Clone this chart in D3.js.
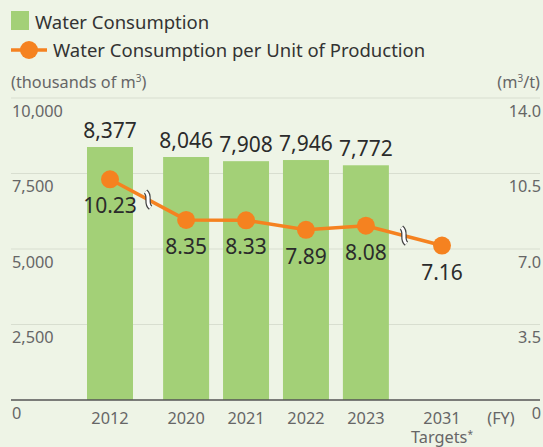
<!DOCTYPE html>
<html>
<head>
<meta charset="utf-8">
<script src="https://cdn.jsdelivr.net/npm/d3@7"></script>
<style>
  html, body { margin: 0; padding: 0; background: #eef4e6; }
  svg { display: block; font-family: "Noto Sans", "Open Sans", sans-serif; }
</style>
</head>
<body>
<div id="app"></div>
<script>
const years = ['2012', '2020', '2021', '2022', '2023', '2031'];
const consumption = [8377, 8046, 7908, 7946, 7772, null];
const perUnit = [10.23, 8.35, 8.33, 7.89, 8.08, 7.16];
const leftTicks = [0, 2500, 5000, 7500, 10000];
const rightTicks = [0, 3.5, 7.0, 10.5, 14.0];

const width = 543;
const height = 447;
const bg = '#eef4e6';
const green = '#a3d077';
const orange = '#f58220';
const smallFont = 16.3;

const margin = { top: 98, bottom: 47, left: 11, right: 3 };
const plotBottom = height - margin.bottom;

// extra room where the year sequence jumps (axis break)
const breakGap = 0.27;
let breaks = 0;
const slots = years.map((y, i) => {
  if (i > 0 && +y - +years[i - 1] > 1) breaks++;
  return i + breaks * breakGap;
});

const x = d3.scaleLinear()
  .domain([0, d3.max(slots)])
  .range([110, 442]);
const yLeft = d3.scaleLinear().domain([0, 10000]).range([plotBottom, margin.top]);
const yRight = d3.scaleLinear().domain([0, 14]).range([plotBottom, margin.top]);
const barWidth = 46;

const svg = d3.select('#app').append('svg')
  .attr('width', width)
  .attr('height', height);

svg.append('rect').attr('width', width).attr('height', height).attr('fill', bg);

// legend
const legend = svg.append('g');
legend.append('rect')
  .attr('x', 11).attr('y', 11).attr('width', 18).attr('height', 19)
  .attr('fill', green);
legend.append('text')
  .attr('x', 35).attr('y', 29)
  .attr('font-size', 18.5).attr('fill', '#333')
  .text('Water Consumption');
legend.append('line')
  .attr('x1', 11).attr('x2', 47).attr('y1', 50).attr('y2', 50)
  .attr('stroke', orange).attr('stroke-width', 3.5);
legend.append('circle')
  .attr('cx', 29).attr('cy', 50).attr('r', 9)
  .attr('fill', orange);
legend.append('text')
  .attr('x', 53).attr('y', 57)
  .attr('font-size', 18.5).attr('fill', '#333')
  .text('Water Consumption per Unit of Production');

// unit labels
const unitLeft = svg.append('text')
  .attr('x', 11).attr('y', 88)
  .attr('font-size', smallFont).attr('fill', '#666');
unitLeft.append('tspan').text('(thousands of m');
unitLeft.append('tspan').attr('font-size', 10).attr('dy', -6).text('3');
unitLeft.append('tspan').attr('dy', 6).text(')');

const unitRight = svg.append('text')
  .attr('x', 540).attr('y', 88)
  .attr('text-anchor', 'end')
  .attr('font-size', smallFont).attr('fill', '#666');
unitRight.append('tspan').text('(m');
unitRight.append('tspan').attr('font-size', 10).attr('dy', -6).text('3');
unitRight.append('tspan').attr('dy', 6).text('/t)');

// gridlines
svg.append('g')
  .selectAll('line')
  .data(leftTicks.filter(d => d > 0))
  .join('line')
  .attr('x1', margin.left).attr('x2', width - margin.right)
  .attr('y1', d => yLeft(d)).attr('y2', d => yLeft(d))
  .attr('stroke', '#d8ded0').attr('stroke-width', 1);

// left axis labels
const fmt = d3.format(',');
svg.append('g')
  .selectAll('text')
  .data(leftTicks)
  .join('text')
  .attr('x', 12)
  .attr('y', d => yLeft(d) + 18.5)
  .attr('font-size', smallFont).attr('fill', '#666')
  .text(d => fmt(d));

// right axis labels
svg.append('g')
  .selectAll('text')
  .data(rightTicks)
  .join('text')
  .attr('x', 541)
  .attr('y', d => yRight(d) + 18.5)
  .attr('text-anchor', 'end')
  .attr('font-size', smallFont).attr('fill', '#666')
  .text(d => d === 0 ? '0' : d3.format('.1f')(d));

// bars
const barData = years.map((y, i) => ({ year: y, value: consumption[i], slot: slots[i] }))
  .filter(d => d.value != null);

svg.append('g')
  .selectAll('rect')
  .data(barData)
  .join('rect')
  .attr('x', d => x(d.slot) - barWidth / 2)
  .attr('width', barWidth)
  .attr('y', d => yLeft(d.value))
  .attr('height', d => plotBottom - yLeft(d.value))
  .attr('fill', green);

svg.append('g')
  .selectAll('text')
  .data(barData)
  .join('text')
  .attr('x', d => x(d.slot))
  .attr('y', d => yLeft(d.value) - 9)
  .attr('text-anchor', 'middle')
  .attr('font-size', 21).attr('fill', '#2b2b2b')
  .text(d => fmt(d.value));

// baseline
svg.append('line')
  .attr('x1', margin.left).attr('x2', width - margin.right)
  .attr('y1', plotBottom).attr('y2', plotBottom)
  .attr('stroke', '#555').attr('stroke-width', 1.5);

// x labels (the last one carries a second line)
const lastYear = years[years.length - 1];
const xl = svg.append('g')
  .selectAll('text')
  .data(years)
  .join('text')
  .attr('x', (d, i) => x(slots[i]))
  .attr('y', 424)
  .attr('text-anchor', 'middle')
  .attr('font-size', smallFont).attr('fill', '#666');
xl.append('tspan').text(d => d);
xl.filter(d => d === lastYear).each(function () {
  const t = d3.select(this);
  t.append('tspan').attr('x', t.attr('x')).attr('dy', 19).text('Targets');
  t.append('tspan').attr('font-size', 10).attr('dy', -5).text('*');
});

svg.append('text')
  .attr('x', 501).attr('y', 424)
  .attr('text-anchor', 'middle')
  .attr('font-size', smallFont).attr('fill', '#666')
  .text('(FY)');

// line series
const pts = years.map((y, i) => ({ year: y, value: perUnit[i], slot: slots[i] }));

svg.append('path')
  .datum(pts)
  .attr('fill', 'none')
  .attr('stroke', orange)
  .attr('stroke-width', 3.5)
  .attr('d', d3.line().x(d => x(d.slot)).y(d => yRight(d.value)));

// break marks on segments that jump over years
const breakMark = 'M -2.5,-8 C 3,-4 -3,4 2.5,8';
pts.forEach((d, i) => {
  if (i === 0 || +d.year - +pts[i - 1].year <= 1) return;
  const p = pts[i - 1];
  const mx = (x(p.slot) + x(d.slot)) / 2;
  const my = (yRight(p.value) + yRight(d.value)) / 2;
  const g = svg.append('g').attr('transform', `translate(${mx},${my})`);
  g.append('path').attr('d', breakMark).attr('fill', 'none')
    .attr('stroke', '#444').attr('stroke-width', 5.5);
  g.append('path').attr('d', breakMark).attr('fill', 'none')
    .attr('stroke', '#fff').attr('stroke-width', 3);
});

svg.append('g')
  .selectAll('circle')
  .data(pts)
  .join('circle')
  .attr('cx', d => x(d.slot))
  .attr('cy', d => yRight(d.value))
  .attr('r', 9)
  .attr('fill', orange);

svg.append('g')
  .selectAll('text')
  .data(pts)
  .join('text')
  .attr('x', d => x(d.slot))
  .attr('y', d => yRight(d.value) + 34)
  .attr('text-anchor', 'middle')
  .attr('font-size', 21).attr('fill', '#2b2b2b')
  .text(d => d3.format('.2f')(d.value));
</script>
</body>
</html>
